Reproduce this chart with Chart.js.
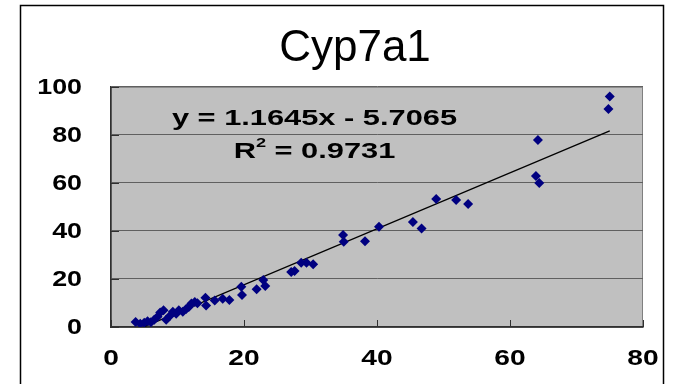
<!DOCTYPE html>
<html lang="en">
<head>
    <meta charset="UTF-8">
    <title>Cyp7a1</title>
    <script src="https://cdn.jsdelivr.net/npm/chart.js"></script>
    <style>
        html, body { margin: 0; padding: 0; background: #ffffff; }
        #wrap { width: 675px; height: 384px; }
    </style>
</head>
<body>
    <div id="wrap">
        <canvas id="cypChart" width="675" height="384"></canvas>
    </div>
    <script>
        // measured values (x, y pairs)
        const xVals = [3.7, 4.4, 5.0, 5.5, 6.0, 6.5, 7.0, 7.4, 7.9, 8.3, 8.8, 9.3, 9.8, 10.2, 10.8,
                       11.3, 11.7, 12.1, 12.6, 13.0, 14.2, 14.3, 15.6, 16.8, 17.8, 19.6, 19.7, 21.9,
                       22.9, 23.2, 27.1, 27.6, 28.6, 29.4, 30.4, 34.9, 35.0, 38.2, 40.3, 45.4, 46.7,
                       48.9, 51.9, 53.7, 63.9, 64.2, 64.4, 74.8, 75.0];
        const yVals = [2.1, 1.4, 1.8, 2.4, 2.0, 3.0, 4.3, 6.0, 7.0, 3.0, 4.5, 6.3, 5.5, 7.0, 6.4,
                       7.5, 8.3, 9.8, 10.4, 9.9, 12.2, 9.0, 11.0, 11.8, 11.2, 16.8, 13.3, 15.7,
                       19.6, 17.1, 22.9, 23.3, 26.8, 26.8, 26.1, 38.3, 35.5, 35.7, 41.7, 43.7, 41.0,
                       53.3, 52.9, 51.2, 62.9, 77.9, 60.0, 90.8, 96.0];

        // trendline as stated in the label
        const slope = 1.1645;
        const intercept = -5.7065;
        const rSquared = 0.9731;

        const xTicks = [0, 20, 40, 60, 80];
        const yTicks = [0, 20, 40, 60, 80, 100];

        const points = xVals.map((x, i) => ({ x: x, y: yVals[i] }));
        const xMin = Math.min(...xVals);
        const xMax = Math.max(...xVals);
        const trend = [
            { x: xMin, y: slope * xMin + intercept },
            { x: xMax, y: slope * xMax + intercept }
        ];

        const FONT = 'Arial, "Liberation Sans", sans-serif';

        // bold text, stretched sideways like the old chart export
        function wideText(ctx, text, x, y, align, size, sx) {
            ctx.save();
            ctx.font = 'bold ' + size + 'px ' + FONT;
            ctx.textAlign = align;
            ctx.textBaseline = 'middle';
            ctx.translate(x, y);
            ctx.scale(sx, 1);
            ctx.fillText(text, 0, 0);
            ctx.restore();
        }

        // grey plot background, plot border and outer frame
        const plotBackground = {
            id: 'plotBackground',
            beforeDraw(chart) {
                const { ctx, chartArea: a } = chart;
                ctx.save();
                ctx.fillStyle = '#ffffff';
                ctx.fillRect(0, 0, chart.width, chart.height);
                ctx.strokeStyle = '#000000';
                ctx.lineWidth = 1.5;
                ctx.strokeRect(20.5, 5.5, 643, 420);
                ctx.fillStyle = '#c0c0c0';
                ctx.fillRect(a.left, a.top, a.right - a.left, a.bottom - a.top);
                ctx.strokeStyle = '#808080';
                ctx.lineWidth = 1;
                ctx.strokeRect(a.left + 0.5, a.top + 0.5, a.right - a.left - 1, a.bottom - a.top);
                ctx.restore();
            }
        };

        // short tick marks pointing into the plot
        const innerTicks = {
            id: 'innerTicks',
            afterDatasetsDraw(chart) {
                const { ctx, scales, chartArea: a } = chart;
                ctx.save();
                ctx.strokeStyle = '#303030';
                ctx.lineWidth = 1;
                ctx.beginPath();
                xTicks.forEach(v => {
                    const px = Math.round(scales.x.getPixelForValue(v)) + 0.5;
                    ctx.moveTo(px, a.bottom);
                    ctx.lineTo(px, a.bottom - 7);
                });
                yTicks.forEach(v => {
                    const py = Math.round(scales.y.getPixelForValue(v)) + 0.5;
                    ctx.moveTo(a.left, py);
                    ctx.lineTo(a.left + 8, py);
                });
                ctx.stroke();
                ctx.restore();
            }
        };

        // tick labels, regression equation and R squared
        const textLayer = {
            id: 'textLayer',
            afterDraw(chart) {
                const { ctx, scales, chartArea: a } = chart;
                ctx.save();
                ctx.fillStyle = '#000000';
                yTicks.forEach(v => {
                    wideText(ctx, String(v), a.left - 29, scales.y.getPixelForValue(v) + 1, 'right', 22, 1.22);
                });
                xTicks.forEach(v => {
                    wideText(ctx, String(v), scales.x.getPixelForValue(v), a.bottom + 32, 'center', 22, 1.28);
                });

                const sx = 1.4;
                const cx = scales.x.getPixelForValue(30.6);
                const y1 = scales.y.getPixelForValue(86.7);
                const y2 = scales.y.getPixelForValue(72.9);
                wideText(ctx, 'y = ' + slope.toFixed(4) + 'x - ' + Math.abs(intercept).toFixed(4), cx, y1, 'center', 22, sx);

                const left = 'R';
                const right = ' = ' + rSquared.toFixed(4);
                ctx.font = 'bold 22px ' + FONT;
                const wL = ctx.measureText(left).width * sx;
                const wR = ctx.measureText(right).width * sx;
                ctx.font = 'bold 13px ' + FONT;
                const wS = ctx.measureText('2').width * sx;
                const start = cx - (wL + wS + wR) / 2;
                wideText(ctx, left, start, y2, 'left', 22, sx);
                wideText(ctx, '2', start + wL, y2 - 8, 'left', 13, sx);
                wideText(ctx, right, start + wL + wS, y2, 'left', 22, sx);
                ctx.restore();
            }
        };

        new Chart(document.getElementById('cypChart'), {
            type: 'scatter',
            data: {
                datasets: [{
                    label: 'Cyp7a1',
                    data: points,
                    pointStyle: 'rectRot',
                    pointRadius: 5,
                    backgroundColor: '#000080',
                    borderColor: '#000080',
                    borderWidth: 0
                }, {
                    label: 'Linear',
                    type: 'line',
                    data: trend,
                    borderColor: '#000000',
                    borderWidth: 1.3,
                    pointRadius: 0,
                    fill: false
                }]
            },
            options: {
                responsive: false,
                animation: false,
                layout: { padding: { left: 67, right: 32, top: 0, bottom: 0 } },
                plugins: {
                    legend: { display: false },
                    tooltip: { enabled: false },
                    title: {
                        display: true,
                        text: 'Cyp7a1',
                        color: '#000000',
                        font: { family: FONT, size: 44, weight: 'normal', lineHeight: 1.2 },
                        padding: { top: 22, bottom: 12 }
                    }
                },
                scales: {
                    x: {
                        type: 'linear',
                        min: 0,
                        max: 80,
                        afterBuildTicks: s => { s.ticks = xTicks.map(v => ({ value: v })); },
                        afterFit: s => { s.height = 57; },
                        grid: { display: false, drawTicks: false },
                        border: { display: true, color: '#303030', width: 1.5 },
                        ticks: { display: false }
                    },
                    y: {
                        min: 0,
                        max: 100,
                        afterBuildTicks: s => { s.ticks = yTicks.map(v => ({ value: v })); },
                        afterFit: s => { s.width = 44; },
                        grid: { color: '#606060', lineWidth: 1, drawTicks: false },
                        border: { display: true, color: '#303030', width: 1.5 },
                        ticks: { display: false }
                    }
                }
            },
            plugins: [plotBackground, innerTicks, textLayer]
        });
    </script>
</body>
</html>
